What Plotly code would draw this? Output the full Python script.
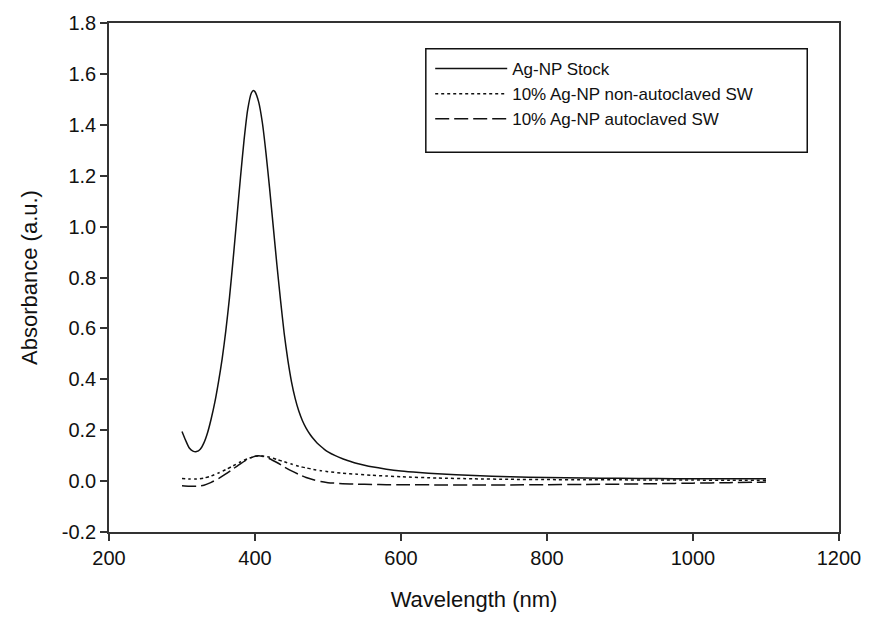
import plotly.graph_objects as go

wl_stock = [300,305,310,315,320,325,330,335,340,345,350,355,360,365,370,375,380,385,390,395,398,400,405,410,415,420,425,430,435,440,445,450,455,460,465,470,475,480,485,490,495,500,510,520,530,540,550,560,580,600,625,650,700,750,800,850,900,950,1000,1050,1100]
abs_stock = [0.195,0.16,0.13,0.118,0.116,0.125,0.15,0.19,0.245,0.31,0.39,0.48,0.59,0.72,0.87,1.03,1.19,1.34,1.46,1.525,1.535,1.53,1.49,1.41,1.29,1.15,1.00,0.85,0.71,0.58,0.475,0.39,0.325,0.275,0.237,0.208,0.185,0.166,0.150,0.137,0.125,0.115,0.100,0.088,0.078,0.069,0.062,0.056,0.047,0.040,0.034,0.029,0.022,0.017,0.014,0.012,0.011,0.010,0.009,0.009,0.009]

wl_sw = [300,310,320,330,340,350,360,370,380,390,400,405,410,420,430,440,450,460,470,480,490,500,520,540,560,580,600,650,700,750,800,850,900,950,1000,1050,1100]
abs_nonauto = [0.010,0.008,0.008,0.012,0.020,0.032,0.045,0.060,0.075,0.088,0.097,0.100,0.099,0.094,0.085,0.076,0.067,0.058,0.052,0.046,0.041,0.037,0.031,0.027,0.023,0.020,0.017,0.012,0.009,0.007,0.006,0.005,0.005,0.004,0.004,0.003,0.003]
abs_auto = [-0.018,-0.020,-0.020,-0.016,-0.005,0.010,0.028,0.048,0.068,0.086,0.098,0.100,0.098,0.088,0.073,0.056,0.040,0.026,0.014,0.005,-0.002,-0.006,-0.010,-0.012,-0.013,-0.014,-0.014,-0.015,-0.015,-0.015,-0.014,-0.013,-0.012,-0.010,-0.008,-0.006,-0.004]

x_ticks = [200, 400, 600, 800, 1000, 1200]
y_ticks = [-0.2, 0.0, 0.2, 0.4, 0.6, 0.8, 1.0, 1.2, 1.4, 1.6, 1.8]
y_ticktext = ["-0.2", "0.0", "0.2", "0.4", "0.6", "0.8", "1.0", "1.2", "1.4", "1.6", "1.8"]

names = ["Ag-NP Stock", "10% Ag-NP non-autoclaved SW", "10% Ag-NP autoclaved SW"]
FONT = "Liberation Sans, Arial, sans-serif"
ink = "#111111"

fig = go.Figure()
fig.add_trace(go.Scatter(x=wl_stock, y=abs_stock, mode="lines", name=names[0],
                         line=dict(color=ink, width=1.5, shape="spline", smoothing=0.6)))
fig.add_trace(go.Scatter(x=wl_sw, y=abs_nonauto, mode="lines", name=names[1],
                         line=dict(color=ink, width=1.5, dash="dot", shape="spline", smoothing=0.6)))
fig.add_trace(go.Scatter(x=wl_sw, y=abs_auto, mode="lines", name=names[2],
                         line=dict(color=ink, width=1.5, dash="14px,5px", shape="spline", smoothing=0.6)))

axis_common = dict(showgrid=False, zeroline=False, showline=True, linecolor="#333333",
                   linewidth=1.5, mirror=True, ticks="outside", ticklen=7, tickwidth=1.5,
                   tickcolor="#333333", tickfont=dict(size=20, family=FONT, color="#111111"))

fig.update_xaxes(range=[200, 1200], tickvals=x_ticks,
                 title=dict(text="Wavelength (nm)", font=dict(size=22, family=FONT, color="#111111"), standoff=24),
                 **axis_common)
fig.update_yaxes(range=[-0.2, 1.8], tickvals=y_ticks, ticktext=y_ticktext,
                 title=dict(text="Absorbance (a.u.)", font=dict(size=22, family=FONT, color="#111111"), standoff=18),
                 **axis_common)

fig.add_shape(type="rect", xref="paper", yref="paper", x0=0.434, x1=0.9565, y0=0.746, y1=0.9496,
              line=dict(color=ink, width=1.5), fillcolor="rgba(0,0,0,0)")

fig.update_layout(
    width=873, height=626,
    margin=dict(l=109, r=29, t=16, b=94),
    plot_bgcolor="white", paper_bgcolor="white",
    font=dict(family=FONT, color="#111111"),
    legend=dict(x=0.44, y=0.945, xanchor="left", yanchor="top", bgcolor="rgba(0,0,0,0)",
                borderwidth=0, font=dict(size=17, family=FONT, color="#111111"),
                itemwidth=72, tracegroupgap=0),
)

fig.write_html("out.html")
